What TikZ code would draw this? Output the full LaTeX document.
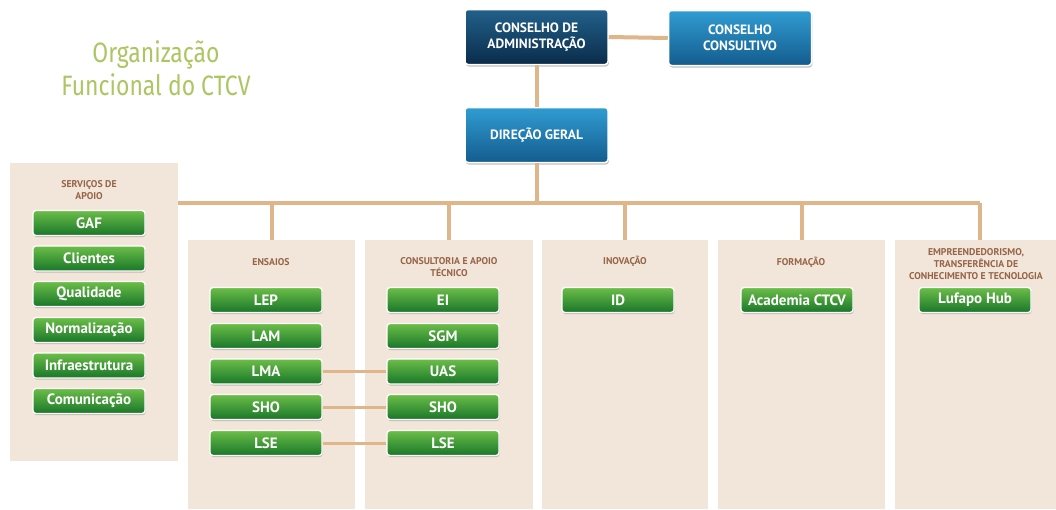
\documentclass[tikz,border=0pt]{standalone}
\usepackage{fontspec}
\setmainfont{PT Sans}
\newfontfamily\titlefont{Fira Sans}[FakeStretch=0.82]
\usetikzlibrary{shadows}
\definecolor{panel}{RGB}{242,230,219}
\definecolor{tan}{RGB}{222,182,138}
\definecolor{gtop}{RGB}{108,190,72}
\definecolor{gbot}{RGB}{24,118,40}
\definecolor{dbtop}{RGB}{34,96,138}
\definecolor{dbbot}{RGB}{10,44,74}
\definecolor{lbtop}{RGB}{48,156,210}
\definecolor{lbbot}{RGB}{20,92,142}
\definecolor{titlegreen}{RGB}{172,198,98}
\definecolor{hdrbrown}{RGB}{150,100,70}
\begin{document}
\begin{tikzpicture}[x=1pt,y=-1pt,
  panelbox/.style={fill=panel, draw=none, inner sep=0pt, anchor=north west},
  hdr/.style={text=hdrbrown, font=\bfseries\fontsize{9.8}{12}\selectfont, align=center, inner sep=0pt},
  gbox/.style={rounded corners=3pt, draw=white, line width=1.3pt, top color=gtop, bottom color=gbot,
     minimum width=112pt, minimum height=25pt, text=white, font=\bfseries\fontsize{15}{15}\selectfont,
     inner sep=0pt, drop shadow={shadow xshift=0.6pt, shadow yshift=-1.6pt, opacity=0.35, fill=black!60}},
  bbox/.style={rounded corners=3pt, draw=white, line width=1.5pt, minimum width=143pt, minimum height=55pt,
     text=white, font=\bfseries\fontsize{13.5}{16}\selectfont, align=center, inner sep=0pt,
     drop shadow={shadow xshift=0.8pt, shadow yshift=-2pt, opacity=0.4, fill=black!60}},
  darkb/.style={bbox, top color=dbtop, bottom color=dbbot},
  lightb/.style={bbox, top color=lbtop, bottom color=lbbot},
  bus/.style={draw=tan, line width=4pt},
  link/.style={draw=tan, line width=3pt}]
\useasboundingbox[fill=white] (0,0) rectangle (1056,509);

% title
\node[text=titlegreen, font=\titlefont\fontsize{28}{33}\selectfont, align=center, inner sep=0pt] (title) at (156,68) {Organização\\Funcional do CTCV};

% panels
\node[panelbox, minimum width=168pt, minimum height=298pt] (sa) at (10,163) {};
\node[panelbox, minimum width=167pt, minimum height=269pt] (ens) at (188,240) {};
\node[panelbox, minimum width=168pt, minimum height=269pt] (cat) at (365,240) {};
\node[panelbox, minimum width=166pt, minimum height=269pt] (ino) at (542,240) {};
\node[panelbox, minimum width=167pt, minimum height=269pt] (for) at (718,240) {};
\node[panelbox, minimum width=161pt, minimum height=269pt] (emp) at (895,240) {};

% headers
\node[hdr] (hsa) at (89,190) {SERVIÇOS DE\\APOIO};
\node[hdr] (hens) at (271,262) {ENSAIOS};
\node[hdr] (hcat) at (449,267) {CONSULTORIA E APOIO\\TÉCNICO};
\node[hdr] (hino) at (625,261) {INOVAÇÃO};
\node[hdr] (hfor) at (801,262) {FORMAÇÃO};
\node[hdr] (hemp) at (976,264) {EMPREENDEDORISMO,\\TRANSFERÊNCIA DE\\CONHECIMENTO E TECNOLOGIA};

% top boxes
\node[darkb] (ca) at (536.5,37) {CONSELHO DE\\ADMINISTRAÇÃO};
\node[lightb] (cc) at (740,38) {CONSELHO\\CONSULTIVO};
\node[lightb] (dg) at (536.5,135) {DIREÇÃO GERAL};

\coordinate (busL) at (178,203);
\coordinate (busR) at (980,203);

% green boxes
\node[gbox] (gaf) at (89,223) {GAF};
\node[gbox] (cli) at (89,258.5) {Clientes};
\node[gbox] (qua) at (89,294) {Qualidade};
\node[gbox] (nor) at (89,330) {Normalização};
\node[gbox] (inf) at (89,365.5) {Infraestrutura};
\node[gbox] (com) at (89,401) {Comunicação};

\node[gbox] (lep) at (266,300) {LEP};
\node[gbox] (lam) at (266,336) {LAM};
\node[gbox] (lma) at (266,371.5) {LMA};
\node[gbox] (sho1) at (266,407) {SHO};
\node[gbox] (lse1) at (266,443) {LSE};

\node[gbox] (ei) at (443,300) {EI};
\node[gbox] (sgm) at (443,336) {SGM};
\node[gbox] (uas) at (443,371.5) {UAS};
\node[gbox] (sho2) at (443,407) {SHO};
\node[gbox] (lse2) at (443,443) {LSE};

\node[gbox] (id) at (618,300) {ID};
\node[gbox] (acad) at (797,300) {Academia CTCV};
\node[gbox] (luf) at (975,300) {Lufapo Hub};

% lines
\draw[bus] (ca.east) -- (cc.west);
\draw[bus] (ca.south) -- (dg.north);
\draw[bus] (dg.south) -- (dg.south |- busL);
\draw[bus] (busL) -- (busR);
\draw[bus] (ens.north) -- (ens.north |- busL);
\draw[bus] (cat.north) -- (cat.north |- busL);
\draw[bus] (ino.north) -- (ino.north |- busL);
\draw[bus] (for.north) -- (for.north |- busL);
\draw[bus] (busR) -- (busR |- emp.north);
\draw[link] (lma.east) -- (uas.west);
\draw[link] (sho1.east) -- (sho2.west);
\draw[link] (lse1.east) -- (lse2.west);
\end{tikzpicture}
\end{document}
